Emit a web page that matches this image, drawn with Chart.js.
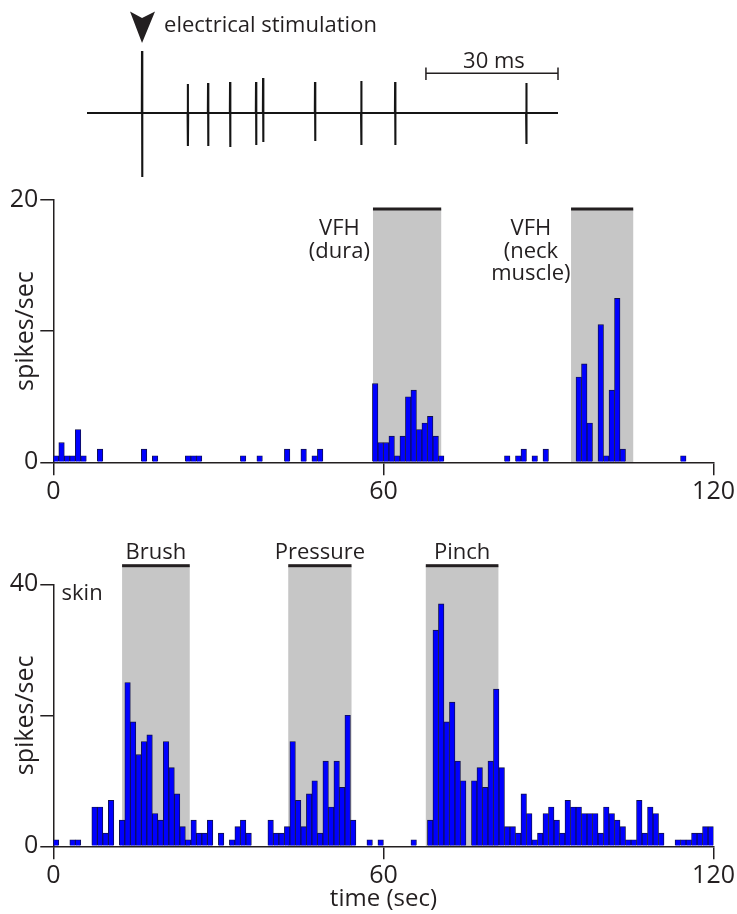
<!DOCTYPE html>
<html>
<head>
<meta charset="utf-8">
<script src="https://cdn.jsdelivr.net/npm/chart.js@4.4.0/dist/chart.umd.min.js"></script>
<style>
  body { margin: 0; background: #fff; }
  #wrap { position: relative; width: 737px; height: 914px; }
  canvas { position: absolute; left: 0; }
</style>
</head>
<body>
<div id="wrap">
  <canvas id="trace" style="top:0" width="737" height="190"></canvas>
  <canvas id="vfh" style="top:180px" width="737" height="335"></canvas>
  <canvas id="skin" style="top:540px" width="737" height="374"></canvas>
</div>
<script>
// --- top trace: one sweep after the electrical stimulus (ms, arbitrary amplitude)
const sweepEndMs = 107;
const stimMs = 12.5;
const stimUp = 62;
const stimDown = 64;
const spikeMs = [22.9, 27.5, 32.5, 38.4, 40.0, 51.8, 62.3, 70.0, 99.8];
const spikeUp = [29, 30, 31, 31, 35, 31, 32, 31, 30];
const spikeDown = [33, 33, 34, 32, 29, 28, 32, 32, 31];
const scaleBarMs = 30;

// --- histograms, 1 s bins, 0..119 s (spikes/sec)
const vfhRate = [
  0.5, 1.5, 0.5, 0.5, 2.5, 0.5, 0, 0, 1, 0,
  0, 0, 0, 0, 0, 0, 1, 0, 0.5, 0,
  0, 0, 0, 0, 0.5, 0.5, 0.5, 0, 0, 0,
  0, 0, 0, 0, 0.5, 0, 0, 0.5, 0, 0,
  0, 0, 1, 0, 0, 1, 0, 0.5, 1, 0,
  0, 0, 0, 0, 0, 0, 0, 0, 6, 1.5,
  1.5, 2, 0.5, 2, 5, 5.5, 2.5, 3, 3.5, 2,
  0.5, 0, 0, 0, 0, 0, 0, 0, 0, 0,
  0, 0, 0.5, 0, 0.5, 1, 0, 0.5, 0, 1,
  0, 0, 0, 0, 0, 6.5, 7.5, 3, 0, 10.5,
  0.5, 5.5, 12.5, 1, 0, 0, 0, 0, 0, 0,
  0, 0, 0, 0, 0.5, 0, 0, 0, 0, 0
];
const skinRate = [
  1, 0, 0, 1, 1, 0, 0, 6, 6, 2,
  7, 0, 4, 25, 19, 14, 16, 17, 5, 4,
  16, 12, 8, 3, 1, 4, 2, 2, 4, 0,
  2, 0, 1, 3, 4, 2, 0, 0, 0, 4,
  2, 2, 3, 16, 7, 3, 8, 10, 2, 13,
  6, 13, 9, 20, 4, 0, 0, 1, 0, 1,
  0, 0, 0, 0, 0, 1, 0, 0, 4, 33,
  37, 19, 22, 13, 10, 0, 10, 12, 9, 13,
  24, 12, 3, 3, 2, 8, 5, 1, 2, 5,
  6, 4, 2, 7, 6, 6, 5, 5, 5, 2,
  6, 5, 4, 3, 1, 1, 7, 2, 6, 5,
  2, 0, 0, 1, 1, 1, 2, 2, 3, 3
];

// stimulus periods (s)
const vfhPeriods = [[58.1, 70.5], [94.1, 105.4]];
const vfhNames = [['VFH', '(dura)'], ['VFH', '(neck', 'muscle)']];
const skinPeriods = [[12.5, 24.8], [42.7, 54.2], [67.7, 80.9]];
const skinNames = ['Brush', 'Pressure', 'Pinch'];

const INK = '#231f20';
Chart.defaults.font.family = '"Open Sans", sans-serif';
Chart.defaults.color = INK;

// trace points
const events = [[stimMs, stimUp, stimDown]];
spikeMs.forEach((t, i) => events.push([t, spikeUp[i], spikeDown[i]]));
const tracePts = [{x: 0, y: 0}];
events.forEach(([t, up, dn]) => {
  tracePts.push({x: t - 0.04, y: 0}, {x: t, y: up}, {x: t + 0.04, y: -dn}, {x: t + 0.08, y: 0});
});
tracePts.push({x: sweepEndMs, y: 0});

const traceDecor = {
  id: 'traceDecor',
  afterDraw(chart) {
    const {ctx, scales: {x}} = chart;
    const sx = x.getPixelForValue(stimMs);
    ctx.save();
    ctx.fillStyle = INK;
    ctx.beginPath();
    ctx.moveTo(sx - 12, 11.5);
    ctx.lineTo(sx, 18);
    ctx.lineTo(sx + 13, 11.5);
    ctx.lineTo(sx, 43);
    ctx.closePath();
    ctx.fill();
    ctx.font = '22px "Open Sans"';
    ctx.textBaseline = 'alphabetic';
    ctx.textAlign = 'left';
    ctx.fillText('electrical stimulation', sx + 22, 32);
    // scale bar
    const x1 = x.getPixelForValue(sweepEndMs);
    const x0 = x.getPixelForValue(sweepEndMs - scaleBarMs);
    ctx.strokeStyle = INK;
    ctx.lineWidth = 1.5;
    ctx.beginPath();
    ctx.moveTo(x0, 73.3); ctx.lineTo(x1, 73.3);
    ctx.moveTo(x0, 67.5); ctx.lineTo(x0, 80);
    ctx.moveTo(x1, 67.5); ctx.lineTo(x1, 80);
    ctx.stroke();
    ctx.textAlign = 'center';
    ctx.fillText(scaleBarMs + ' ms', (x0 + x1) / 2 + 2, 68);
    ctx.restore();
  }
};

new Chart(document.getElementById('trace'), {
  type: 'line',
  data: { datasets: [{ data: tracePts, borderColor: '#151515', borderWidth: 2.1, pointRadius: 0, tension: 0 }] },
  options: {
    responsive: false, animation: false, clip: false,
    layout: { padding: { left: 87, right: 179, top: 0, bottom: 0 } },
    plugins: { legend: { display: false }, tooltip: { enabled: false } },
    scales: {
      x: { type: 'linear', display: false, min: 0, max: sweepEndMs },
      y: { display: false, min: -77, max: 113 }
    }
  },
  plugins: [traceDecor]
});

// bands + labels for the histograms
const bands = {
  id: 'bands',
  beforeDraw(chart, args, o) {
    const {ctx, chartArea, scales: {x, y}} = chart;
    const top = chartArea.top + o.topOffset;
    ctx.save();
    ctx.fillStyle = '#c6c6c6';
    o.periods.forEach(([s, e]) => {
      const x0 = x.getPixelForValue(s), x1 = x.getPixelForValue(e);
      ctx.fillRect(x0, top, x1 - x0, y.getPixelForValue(0) - top);
    });
    ctx.restore();
  },
  afterDraw(chart, args, o) {
    const {ctx, chartArea, scales: {x}} = chart;
    const top = chartArea.top + o.topOffset;
    ctx.save();
    ctx.fillStyle = INK;
    o.periods.forEach(([s, e]) => {
      const x0 = x.getPixelForValue(s), x1 = x.getPixelForValue(e);
      ctx.fillRect(x0, top - 1.5, x1 - x0, 3);
    });
    ctx.font = '22px "Open Sans"';
    ctx.textBaseline = 'middle';
    o.labels.forEach(l => {
      ctx.textAlign = l.align || 'center';
      const lines = [].concat(l.text);
      lines.forEach((t, k) => {
        ctx.fillText(t, x.getPixelForValue(l.x), chartArea.top + l.dy + k * 22.5);
      });
    });
    ctx.restore();
  }
};

function histogram(id, rates, yMax, xTitle, xHeight, padTop, bandOpts) {
  return new Chart(document.getElementById(id), {
    type: 'bar',
    data: {
      datasets: [{
        data: rates.map((v, i) => ({x: i + 0.5, y: v > 0 ? v : null})),
        backgroundColor: '#0000ff',
        borderColor: '#10104a',
        borderWidth: 0.9,
        barPercentage: 1,
        categoryPercentage: 1,
        grouped: false
      }]
    },
    options: {
      responsive: false, animation: false,
      layout: { padding: { left: 0, right: 21.7, top: padTop, bottom: 0 } },
      plugins: { legend: { display: false }, tooltip: { enabled: false }, bands: bandOpts },
      scales: {
        x: {
          type: 'linear', min: 0, max: 120, offset: false,
          ticks: { stepSize: 60, font: { size: 25 }, color: INK, padding: 2, maxRotation: 0 },
          grid: { offset: false, drawOnChartArea: false, tickLength: 13, color: INK, lineWidth: 1.5 },
          border: { color: INK, width: 1.5 },
          title: { display: !!xTitle, text: xTitle, font: { size: 24 }, color: INK, padding: { top: 0, bottom: 0 } },
          afterFit(s) { s.height = xHeight; }
        },
        y: {
          min: 0, max: yMax,
          ticks: { stepSize: yMax / 2, font: { size: 25 }, color: INK, padding: 2,
                   callback: v => (v === yMax / 2 ? '' : v) },
          grid: { drawOnChartArea: false, tickLength: 13, color: INK, lineWidth: 1.5 },
          border: { color: INK, width: 1.5 },
          title: { display: true, text: 'spikes/sec', font: { size: 25 }, color: INK, padding: { top: 11, bottom: 0 } },
          afterFit(s) { s.width = 53.3; }
        }
      }
    },
    plugins: [bands]
  });
}

histogram('vfh', vfhRate, 20, '', 52.7, 20, {
  periods: vfhPeriods, topOffset: 9,
  labels: [
    { x: 52.0, dy: 29, text: vfhNames[0] },
    { x: 86.8, dy: 29, text: vfhNames[1] }
  ]
});

histogram('skin', skinRate, 40, 'time (sec)', 67.7, 44.3, {
  periods: skinPeriods, topOffset: -18.6,
  labels: skinPeriods.map((p, i) => ({ x: (p[0] + p[1]) / 2, dy: -31.3, text: skinNames[i] }))
    .concat([{ x: 1.5, dy: 9.7, text: 'skin', align: 'left' }])
});
</script>
</body>
</html>
